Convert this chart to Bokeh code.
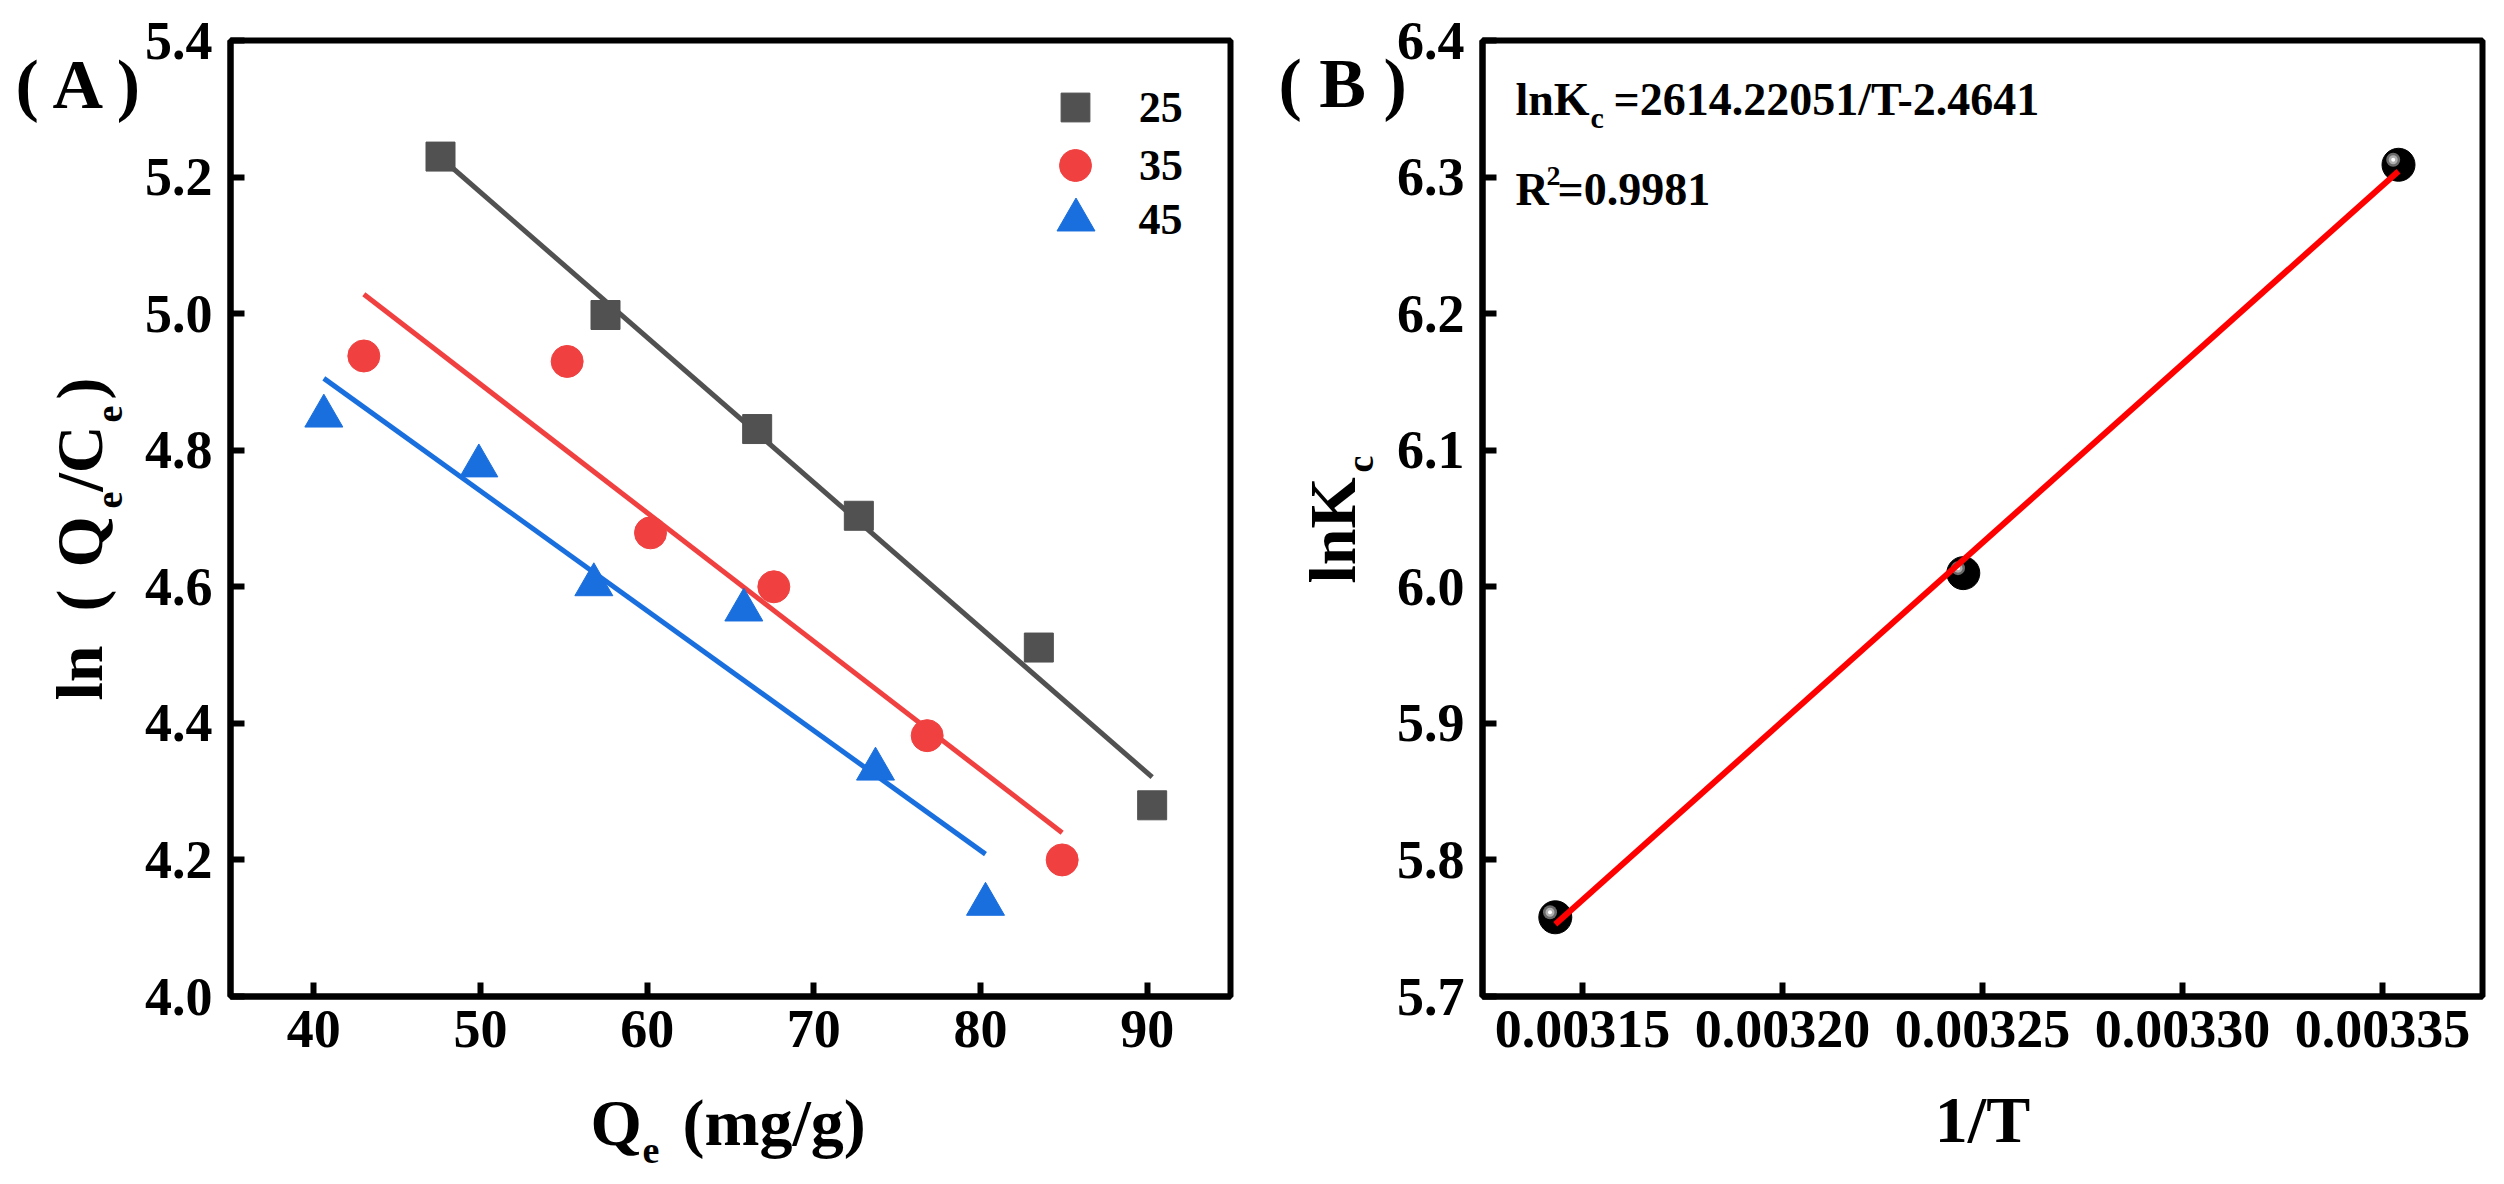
import numpy as np
from bokeh.plotting import figure
from bokeh.models import (Range1d, FixedTicker, NumeralTickFormatter, Label,
                          Legend, LegendItem)
from bokeh.core.properties import value
from bokeh.layouts import row
from bokeh.embed import file_html
from bokeh.resources import INLINE

# ---------------- Panel A data ----------------
qe_25 = [47.6, 57.5, 66.6, 72.7, 83.5, 90.3]
ln_25 = [5.230, 4.998, 4.831, 4.704, 4.511, 4.280]
qe_35 = [43.0, 55.2, 60.2, 67.6, 76.8, 84.9]
ln_35 = [4.938, 4.930, 4.679, 4.600, 4.382, 4.200]
qe_45 = [40.6, 49.9, 56.8, 65.8, 73.7, 80.3]
ln_45 = [4.850, 4.777, 4.603, 4.566, 4.333, 4.135]
series_labels = ["25", "35", "45"]
a_xticks = [40, 50, 60, 70, 80, 90]
a_yticks = [4.0, 4.2, 4.4, 4.6, 4.8, 5.0, 5.2, 5.4]

# ---------------- Panel B data ----------------
inv_T = [0.0031432, 0.0032452, 0.0033540]
ln_kc = [5.758, 6.010, 6.309]
b_xticks = [0.00315, 0.00320, 0.00325, 0.00330, 0.00335]
b_yticks = [5.7, 5.8, 5.9, 6.0, 6.1, 6.2, 6.3, 6.4]
eq_main = "=2614.22051/T-2.4641"
r2_main = "=0.9981"

FONT = "Liberation Serif"
C_GRAY, C_RED, C_BLUE = "#515151", "#F14040", "#1A6FDF"
BASE = 0.35  # Bokeh centres "alphabetic" text; shift anchor to land the baseline


def style(p, xticks, yticks, xfmt, yfmt):
    p.outline_line_color = "black"
    p.outline_line_width = 6
    p.grid.visible = False
    p.background_fill_color = "white"
    p.border_fill_color = "white"
    for ax in (p.xaxis[0], p.yaxis[0]):
        ax.axis_line_width = 6
        ax.axis_line_color = "black"
        ax.major_tick_line_width = 6
        ax.major_tick_line_color = "black"
        ax.major_tick_in = 14
        ax.major_tick_out = 0
        ax.minor_tick_line_color = None
        ax.major_label_text_font = FONT
        ax.major_label_text_font_size = "54px"
        ax.major_label_text_font_style = "bold"
        ax.major_label_text_color = "black"
    p.xaxis[0].ticker = FixedTicker(ticks=xticks)
    p.yaxis[0].ticker = FixedTicker(ticks=yticks)
    p.xaxis[0].formatter = NumeralTickFormatter(format=xfmt)
    p.yaxis[0].formatter = NumeralTickFormatter(format=yfmt)
    p.xaxis[0].major_label_standoff = 14
    p.yaxis[0].major_label_standoff = 18


def lab(p, x, y, text, size):
    """Text inside the frame; (x, y) = start of baseline, frame pixels, y up."""
    p.add_layout(Label(x=x, y=y + BASE * size, x_units="screen", y_units="screen",
                       text=text, text_font=FONT, text_font_size=f"{size}px",
                       text_font_style="bold", text_align="left",
                       text_baseline="alphabetic", text_color="black"))


def txt(p, dx, dy, s, size, rotated=False, align="left"):
    """Text outside the frame, anchored at the frame's bottom-left corner."""
    if rotated:
        dx, angle = dx - BASE * size, np.pi / 2
    else:
        dy, angle = dy + BASE * size, 0.0
    p.text(x=[p.x_range.start], y=[p.y_range.start], text=[s],
           x_offset=dx, y_offset=-dy, angle=angle,
           text_font=value(FONT), text_font_size=f"{size}px",
           text_font_style="bold", text_align=align,
           text_baseline="alphabetic", text_color="black", level="overlay")


# ================= Panel A =================
pa = figure(frame_width=1000, frame_height=956, min_border_left=230,
            min_border_right=28, min_border_top=40, min_border_bottom=184,
            x_range=Range1d(35, 95), y_range=Range1d(4.0, 5.4),
            output_backend="svg", toolbar_location=None)
style(pa, a_xticks, a_yticks, "0", "0.0")

series = [(qe_25, ln_25, C_GRAY, "square", 29),
          (qe_35, ln_35, C_RED, "circle", 32),
          (qe_45, ln_45, C_BLUE, "triangle", 38)]
# legend row centres (frame px, y up); legend glyph is drawn at 0.4 x box size
legend_cx, legend_label_x = 845, 909
legend_rows_cy = [889, 831, 777]
for (xs, ys, col, mk, sz), name, cy in zip(series, series_labels, legend_rows_cy):
    k, b = np.polyfit(xs, ys, 1)
    fx = [min(xs), max(xs)]
    pa.line(fx, [k * v + b for v in fx], line_color=col, line_width=5)
    r = pa.scatter(xs, ys, marker=mk, size=sz, fill_color=col, line_color=col)
    g = sz / 0.4
    lg = Legend(items=[LegendItem(label=name, renderers=[r])],
                location=(legend_cx - g / 2, cy - g / 2),
                glyph_width=int(round(g)), glyph_height=int(round(g)), spacing=0,
                padding=0, margin=0, label_standoff=int(round(legend_label_x - legend_cx - g / 2)),
                label_text_font=FONT, label_text_font_size="44px",
                label_text_font_style="bold", label_text_color="black",
                border_line_color=None, background_fill_alpha=0)
    pa.add_layout(lg)

txt(pa, -215, 888, "( A )", 70)
# x title
txt(pa, 360, -149, "Q", 66)
txt(pa, 412, -167, "e", 38)
txt(pa, 452, -149, "(mg/g)", 66)
# y title (rotated)
txt(pa, -128, 296, "ln", 66, rotated=True)
txt(pa, -128, 385, "(", 66, rotated=True)
txt(pa, -128, 429, "Q", 66, rotated=True)
txt(pa, -108, 488, "e", 38, rotated=True)
txt(pa, -128, 505, "/C", 66, rotated=True)
txt(pa, -108, 574, "e", 38, rotated=True)
txt(pa, -128, 597, ")", 66, rotated=True)

# ================= Panel B =================
bx0, bx1, by0, by1 = 0.003125, 0.003375, 5.7, 6.4
pb = figure(frame_width=1000, frame_height=956, min_border_left=224,
            min_border_right=22, min_border_top=40, min_border_bottom=184,
            x_range=Range1d(bx0, bx1), y_range=Range1d(by0, by1),
            output_backend="svg", toolbar_location=None)
style(pb, b_xticks, b_yticks, "0.00000", "0.0")

pb.scatter(inv_T, ln_kc, marker="circle", size=33, fill_color="black", line_color="black")
# sphere highlight, offset up-left by a few pixels
dx = -5.3 * (bx1 - bx0) / 1000
dy = 5.0 * (by1 - by0) / 956
hx = [v + dx for v in inv_T]
hy = [v + dy for v in ln_kc]
pb.scatter(hx, hy, marker="circle", size=14, fill_color="#6A6A6A", line_color=None)
pb.scatter(hx, hy, marker="circle", size=9, fill_color="#B0B0B0", line_color=None)
pb.scatter(hx, hy, marker="circle", size=4, fill_color="white", line_color=None)

kb, bb = np.polyfit(inv_T, ln_kc, 1)
fxb = [min(inv_T), max(inv_T)]
pb.line(fxb, [kb * v + bb for v in fxb], line_color="#FF0000", line_width=6)

lab(pb, 33, 881, "lnK", 46)
lab(pb, 108, 869, "c", 30)
lab(pb, 131, 881, eq_main, 46)
lab(pb, 33, 791, "R", 46)
lab(pb, 64, 811, "2", 28)
lab(pb, 75, 791, r2_main, 46)

txt(pb, -204, 889, "( B )", 70)
# x title
txt(pb, 500, -146, "1/T", 66, align="center")
# y title
txt(pb, -127, 413, "lnK", 66, rotated=True)
txt(pb, -109, 524, "c", 38, rotated=True)

layout = row(pa, pb)
open("out.html", "w").write(file_html(layout, INLINE))
